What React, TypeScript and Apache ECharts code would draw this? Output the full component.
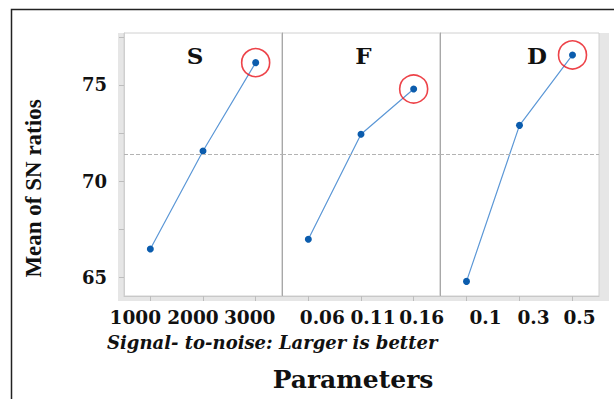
import React, { useEffect, useRef } from "react";
import * as echarts from "echarts";

// ---- data ----
const panelNames = ["S", "F", "D"];
const sLevels = ["1000", "2000", "3000"];
const fLevels = ["0.06", "0.11", "0.16"];
const dLevels = ["0.1", "0.3", "0.5"];
const sMeans = [66.47, 71.57, 76.16];
const fMeans = [66.98, 72.44, 74.79];
const dMeans = [64.79, 72.9, 76.56];
const yTickValues = [65, 67.5, 70, 72.5, 75, 77.5];
const yLabelValues = [65, 70, 75];
const yTitle = "Mean of SN ratios";
const xTitle = "Parameters";
const subTitle = "Signal- to-noise: Larger is better";

// ---- layout / style ----
const SERIF = "'DejaVu Serif', 'Liberation Serif', serif";
const TIMES = "'Liberation Serif', 'DejaVu Serif', serif";
const gridLefts = [124, 282, 440];
const gridWidths = [158, 158, 159];
const gridTop = 33;
const gridHeight = 263;
const yMin = 64.03;
const yMax = 77.7;
// horizontal nudges of each x label (px), per panel
const labelShifts = [
  [-15, -10, -6],
  [14, 12, 8],
  [19, 14, 7],
];
const panelTitlePos = [
  [195, 55.5],
  [363.5, 55.5],
  [537, 55.5],
];

export default function App() {
  const ref = useRef<HTMLDivElement>(null);

  useEffect(() => {
    if (!ref.current) return;
    const chart = echarts.init(ref.current, null, { renderer: "svg" });

    const levels = [sLevels, fLevels, dLevels];
    const means = [sMeans, fMeans, dMeans];
    const all = [...sMeans, ...fMeans, ...dMeans];
    const grand = all.reduce((a, b) => a + b, 0) / all.length;

    const xLabelFont = { fontFamily: SERIF, fontWeight: "bold", fontSize: 18.5, color: "#111" };

    const xAxis = levels.map((lv, i) => {
      const rich: any = {};
      labelShifts[i].forEach((d, k) => {
        rich["l" + k] = {
          ...xLabelFont,
          padding: d >= 0 ? [0, 0, 0, 2 * d] : [0, -2 * d, 0, 0],
        };
      });
      return {
        type: "category",
        gridIndex: i,
        data: lv,
        boundaryGap: true,
        axisLine: { show: true, lineStyle: { color: "#c8c8c8", width: 1 } },
        axisTick: { show: true, alignWithLabel: true, length: 5, lineStyle: { color: "#bdbdbd" } },
        axisLabel: {
          ...xLabelFont,
          margin: 12,
          interval: 0,
          formatter: (v: string, idx: number) => `{l${idx}|${v}}`,
          rich,
        },
        splitLine: { show: false },
      };
    });

    const yAxis = levels.map((_, i) => ({
      type: "value",
      gridIndex: i,
      min: yMin,
      max: yMax,
      splitLine: { show: false },
      axisLine: { show: true, lineStyle: { color: i === 0 ? "#cfcfcf" : "#a8a8a8", width: 1 } },
      axisTick: {
        show: i === 0,
        length: 5,
        customValues: yTickValues,
        lineStyle: { color: "#bdbdbd" },
      },
      axisLabel: {
        show: i === 0,
        customValues: yLabelValues,
        margin: 17,
        fontFamily: SERIF,
        fontWeight: "bold",
        fontSize: 18,
        color: "#111",
      },
    }));

    const lineSeries = means.map((vals, i) => ({
      type: "line",
      xAxisIndex: i,
      yAxisIndex: i,
      data: vals,
      symbol: "circle",
      symbolSize: 7,
      itemStyle: { color: "#0b5cad" },
      lineStyle: { color: "#5b97d6", width: 1.2 },
      z: 4,
      markLine: {
        silent: true,
        symbol: ["none", "none"],
        label: { show: false },
        lineStyle: { type: "dashed", color: "#b3b3b3", width: 1 },
        data: [{ yAxis: grand }],
      },
    }));

    const circleSeries = means.map((vals, i) => {
      const mx = Math.max(...vals);
      const idx = vals.indexOf(mx);
      return {
        type: "scatter",
        xAxisIndex: i,
        yAxisIndex: i,
        data: [[idx, mx]],
        symbol: "circle",
        symbolSize: 28,
        itemStyle: { color: "rgba(0,0,0,0)", borderColor: "#e8141c", borderWidth: 1.6 },
        z: 5,
        silent: true,
      };
    });

    const graphic: any[] = [
      // light frame band around the plot
      { type: "rect", z: -5, shape: { x: 118, y: 33, width: 6, height: 268 }, style: { fill: "#e6e6e6" } },
      { type: "rect", z: -5, shape: { x: 599, y: 33, width: 10, height: 268 }, style: { fill: "#e6e6e6" } },
      { type: "rect", z: -5, shape: { x: 124, y: 296, width: 475, height: 5 }, style: { fill: "#e6e6e6" } },
      // outer black border
      {
        type: "polyline",
        shape: { points: [[11.5, 400], [11.5, 9.5], [614, 9.5]] },
        style: { stroke: "#222", lineWidth: 1.5, fill: "none" },
      },
      ...panelNames.map((n, i) => ({
        type: "text",
        x: panelTitlePos[i][0],
        y: panelTitlePos[i][1],
        style: {
          text: n,
          fontFamily: SERIF,
          fontWeight: "bold",
          fontSize: 23,
          fill: "#111",
          textAlign: "center",
          textVerticalAlign: "middle",
        },
      })),
      {
        type: "text",
        x: 33,
        y: 188.5,
        rotation: Math.PI / 2,
        style: {
          text: yTitle,
          fontFamily: TIMES,
          fontWeight: "bold",
          fontSize: 23,
          fill: "#111",
          textAlign: "center",
          textVerticalAlign: "middle",
        },
      },
      {
        type: "text",
        x: 107,
        y: 342,
        style: {
          text: subTitle,
          fontFamily: SERIF,
          fontWeight: "bold",
          fontStyle: "italic",
          fontSize: 18,
          fill: "#111",
          textAlign: "left",
          textVerticalAlign: "middle",
        },
      },
      {
        type: "text",
        x: 353,
        y: 379,
        style: {
          text: xTitle,
          fontFamily: SERIF,
          fontWeight: "bold",
          fontSize: 25,
          fill: "#111",
          textAlign: "center",
          textVerticalAlign: "middle",
        },
      },
    ];

    chart.setOption({
      animation: false,
      backgroundColor: "#ffffff",
      grid: levels.map((_, i) => ({
        left: gridLefts[i],
        top: gridTop,
        width: gridWidths[i],
        height: gridHeight,
        show: true,
        backgroundColor: "#ffffff",
        borderColor: "#d0d0d0",
        borderWidth: 1,
      })),
      xAxis,
      yAxis,
      series: [...lineSeries, ...circleSeries],
      graphic,
    });

    return () => chart.dispose();
  }, []);

  return (
    <div
      ref={ref}
      style={{ position: "absolute", left: 0, top: 0, width: 614, height: 399 }}
    />
  );
}
